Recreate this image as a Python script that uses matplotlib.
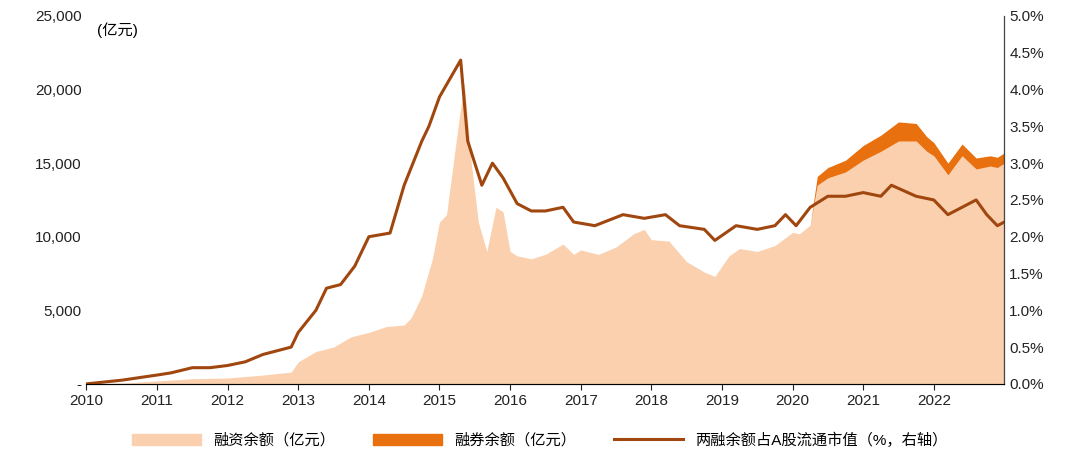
import matplotlib
matplotlib.use("Agg")
import matplotlib.pyplot as plt
from matplotlib.patches import Patch
from matplotlib.lines import Line2D
plt.rcParams['font.family'] = ['Liberation Sans', 'Noto Sans CJK SC', 'DejaVu Sans']

fin_x = [2010.0,2010.5,2011.0,2011.5,2012.0,2012.5,2012.9,2013.0,2013.25,2013.5,2013.75,2014.0,2014.25,2014.5,2014.6,2014.75,2014.9,2015.0,2015.1,2015.25,2015.35,2015.45,2015.55,2015.67,2015.8,2015.9,2016.0,2016.1,2016.3,2016.5,2016.75,2016.9,2017.0,2017.25,2017.5,2017.75,2017.9,2018.0,2018.25,2018.5,2018.75,2018.9,2019.1,2019.25,2019.5,2019.75,2020.0,2020.1,2020.25,2020.35,2020.5,2020.75,2021.0,2021.25,2021.5,2021.75,2021.9,2022.0,2022.2,2022.4,2022.6,2022.8,2022.9,2023.0]
fin_v = [0,50,200,350,400,600,800,1500,2200,2500,3200,3500,3900,4000,4500,6000,8500,11000,11500,17000,20500,15000,11000,9000,12000,11700,9000,8700,8500,8800,9500,8800,9100,8800,9300,10200,10500,9800,9700,8300,7600,7300,8700,9200,9000,9400,10300,10200,10800,13500,14000,14400,15200,15800,16500,16500,15800,15500,14200,15500,14600,14800,14700,15000]
sec_v = [0]*49 + [600,700,800,1000,1100,1300,1200,1000,900,800,800,750,700,700,700]

ratio_x = [2010,2010.5,2011,2011.2,2011.5,2011.75,2012,2012.25,2012.5,2012.9,2013,2013.25,2013.4,2013.6,2013.8,2014,2014.3,2014.5,2014.75,2014.85,2015,2015.3,2015.4,2015.6,2015.75,2015.9,2016.1,2016.3,2016.5,2016.75,2016.9,2017.2,2017.6,2017.9,2018.2,2018.4,2018.75,2018.9,2019.2,2019.5,2019.75,2019.9,2020.05,2020.25,2020.5,2020.75,2021,2021.25,2021.4,2021.75,2022.0,2022.2,2022.4,2022.6,2022.75,2022.9,2023]
ratio_v = [0,0.05,0.12,0.15,0.22,0.22,0.25,0.3,0.4,0.5,0.7,1.0,1.3,1.35,1.6,2.0,2.05,2.7,3.3,3.5,3.9,4.4,3.3,2.7,3.0,2.8,2.45,2.35,2.35,2.4,2.2,2.15,2.3,2.25,2.3,2.15,2.1,1.95,2.15,2.1,2.15,2.3,2.15,2.4,2.55,2.55,2.6,2.55,2.7,2.55,2.5,2.3,2.4,2.5,2.3,2.15,2.2]

fill_c, sec_c, line_c = '#FBD0AE', '#E8700E', '#A0460F'
fig = plt.figure(figsize=(10.8, 4.57), dpi=100)
ax = fig.add_axes([0.08, 0.16, 0.85, 0.805])
total = [a + b for a, b in zip(fin_v, sec_v)]
ax.fill_between(fin_x, 0, fin_v, color=fill_c, lw=0)
ax.fill_between(fin_x, fin_v, total, color=sec_c, lw=0)
ax.set_xlim(2010, 2023)
ax.set_ylim(0, 25000)
ax.set_xticks(range(2010, 2023))
ax.set_yticks(range(0, 25001, 5000))
ax.set_yticklabels(['-'] + [f'{v:,}' for v in range(5000, 25001, 5000)])
ax2 = ax.twinx()
ax2.plot(ratio_x, ratio_v, color=line_c, lw=2.2)
ax2.set_ylim(0, 5)
ax2.set_yticks([i * 0.5 for i in range(11)])
ax2.set_yticklabels([f'{i*0.5:.1f}%' for i in range(11)])
for a in (ax, ax2):
    a.spines['top'].set_visible(False)
    a.spines['left'].set_visible(False)
    a.tick_params(labelsize=11, colors='#222222', length=0)
ax.spines['bottom'].set_color('#444444')
ax2.spines['right'].set_color('#444444')
ax.tick_params(axis='x', length=4, direction='out', colors='#222222')
ax.text(2010.15, 24600, '(亿元)', fontsize=11, va='top')
handles = [Patch(color=fill_c), Patch(color=sec_c), Line2D([], [], color=line_c, lw=2.2)]
fig.legend(handles, ['融资余额（亿元）', '融券余额（亿元）', '两融余额占A股流通市值（%，右轴）'],
           loc='lower center', ncol=3, frameon=False, fontsize=11, bbox_to_anchor=(0.5, -0.01),
           handlelength=4.5, columnspacing=2.5)
fig.savefig('out.png')
